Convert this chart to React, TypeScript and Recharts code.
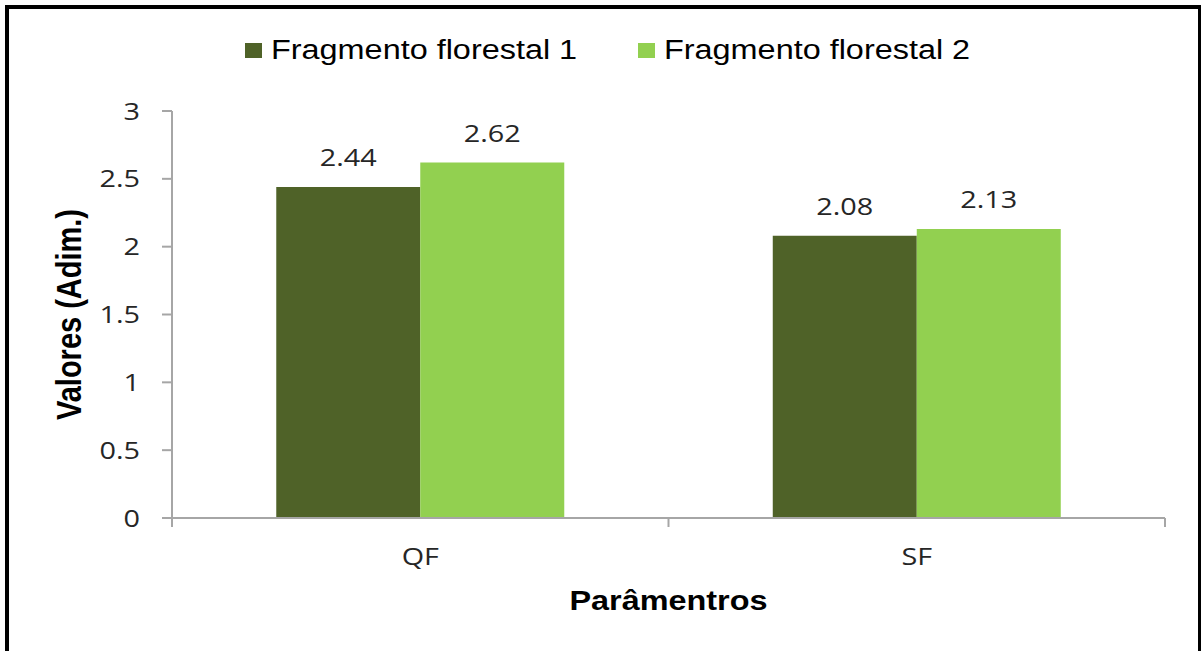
import React from 'react';
import { BarChart, Bar, XAxis, YAxis, Legend, LabelList } from 'recharts';

// Índices por parâmetro para cada fragmento
const categories = ['QF', 'SF'];
const fragmento1 = [2.44, 2.08];
const fragmento2 = [2.62, 2.13];
const seriesNames = ['Fragmento florestal 1', 'Fragmento florestal 2'];
const seriesColors = ['#4F6228', '#92D050'];
const yTicks = [0, 0.5, 1, 1.5, 2, 2.5, 3];

const data = categories.map((name, i) => ({ name, f1: fragmento1[i], f2: fragmento2[i] }));

const W = 1203;
const H = 651;
const Y_AXIS_W = 100;
const margin = { top: 81, right: 38, bottom: 103, left: 72 };
const band = (W - margin.left - Y_AXIS_W - margin.right) / categories.length;

// text in this chart is drawn a little wide
const STRETCH = 1.2;
const AXIS = '#a6a6a6';
const TEXT = '#262626';
const TICK_FONT = '"Open Sans", "Liberation Sans", sans-serif';
const TITLE_FONT = '"Liberation Sans", Arial, sans-serif';

const XTick = (props: any) => {
  const { x, y, payload, index } = props;
  return (
    <g>
      <line x1={x - band / 2} x2={x - band / 2} y1={y} y2={y + 9} stroke={AXIS} strokeWidth={2} />
      {index === categories.length - 1 && (
        <line x1={x + band / 2} x2={x + band / 2} y1={y} y2={y + 9} stroke={AXIS} strokeWidth={2} />
      )}
      <text
        transform={`translate(${x},${y + 47}) scale(${STRETCH},1)`}
        textAnchor="middle"
        fontFamily={TICK_FONT}
        fontSize={24}
        fill={TEXT}
      >
        {payload.value}
      </text>
    </g>
  );
};

const YTick = (props: any) => {
  const { x, y, payload } = props;
  return (
    <text
      transform={`translate(${x - 22},${y + 8.5}) scale(${STRETCH},1)`}
      textAnchor="end"
      fontFamily={TICK_FONT}
      fontSize={24}
      fill={TEXT}
    >
      {String(payload.value)}
    </text>
  );
};

const ValueLabel = (props: any) => {
  const { x, y, width, value } = props;
  return (
    <text
      transform={`translate(${Number(x) + Number(width) / 2},${Number(y) - 21}) scale(${STRETCH},1)`}
      textAnchor="middle"
      fontFamily={TICK_FONT}
      fontSize={24}
      fill={TEXT}
    >
      {Number(value).toFixed(2)}
    </text>
  );
};

const YTitle = (props: any) => {
  const { viewBox } = props;
  const cy = viewBox.y + viewBox.height / 2;
  return (
    <text
      transform={`translate(${viewBox.x - 2},${cy}) rotate(-90) scale(1,${STRETCH})`}
      y={9.5}
      textAnchor="middle"
      fontFamily={TITLE_FONT}
      fontWeight="bold"
      fontSize={29}
      fill="#000"
    >
      Valores (Adim.)
    </text>
  );
};

const XTitle = (props: any) => {
  const { viewBox } = props;
  const cx = viewBox.x + viewBox.width / 2;
  return (
    <text
      transform={`translate(${cx},${viewBox.y + 92}) scale(${STRETCH},1)`}
      textAnchor="middle"
      fontFamily={TITLE_FONT}
      fontWeight="bold"
      fontSize={27}
      fill="#000"
    >
      Parâmentros
    </text>
  );
};

const LegendRow = (props: any) => {
  const items = props.payload || [];
  return (
    <div style={{ display: 'flex', alignItems: 'center', height: 30, paddingLeft: 245, fontFamily: TITLE_FONT, fontSize: 27, color: '#000' }}>
      {items.map((item: any, i: number) => (
        <div key={item.value} style={{ display: 'flex', alignItems: 'center', marginRight: i === 0 ? 112 : 0 }}>
          <span style={{ display: 'inline-block', width: 17, height: 15, background: item.color, marginRight: 9 }} />
          <span style={{ display: 'inline-block', transform: `scaleX(${STRETCH})`, transformOrigin: '0 50%', lineHeight: '30px', whiteSpace: 'nowrap' }}>
            {item.value}
          </span>
        </div>
      ))}
    </div>
  );
};

export default function App() {
  return (
    <>
      <div style={{ position: 'fixed', left: 0, top: 0, width: W, height: H, background: '#fff' }}>
        <BarChart width={W} height={H} data={data} margin={margin} barCategoryGap="21%" barGap={0}>
          <XAxis
            dataKey="name"
            axisLine={{ stroke: AXIS, strokeWidth: 2 }}
            tickLine={false}
            tickSize={0}
            tickMargin={0}
            tick={<XTick />}
            label={{ content: <XTitle /> }}
          />
          <YAxis
            width={Y_AXIS_W}
            domain={[0, 3]}
            ticks={yTicks}
            axisLine={{ stroke: AXIS, strokeWidth: 2 }}
            tickLine={{ stroke: AXIS, strokeWidth: 2 }}
            tickSize={10}
            tickMargin={0}
            tick={<YTick />}
            label={{ content: <YTitle /> }}
          />
          <Legend
            verticalAlign="top"
            content={<LegendRow />}
            wrapperStyle={{ top: 35, left: 0, width: W, margin: 0 }}
          />
          <Bar dataKey="f1" name={seriesNames[0]} fill={seriesColors[0]} isAnimationActive={false}>
            <LabelList dataKey="f1" content={<ValueLabel />} />
          </Bar>
          <Bar dataKey="f2" name={seriesNames[1]} fill={seriesColors[1]} isAnimationActive={false}>
            <LabelList dataKey="f2" content={<ValueLabel />} />
          </Bar>
        </BarChart>
      </div>
      <div
        style={{
          position: 'fixed',
          left: 5,
          top: 5,
          width: 1196,
          height: 700,
          boxSizing: 'border-box',
          borderTop: '4px solid #000',
          borderLeft: '4px solid #000',
          borderRight: '3px solid #000',
          pointerEvents: 'none',
        }}
      />
    </>
  );
}
